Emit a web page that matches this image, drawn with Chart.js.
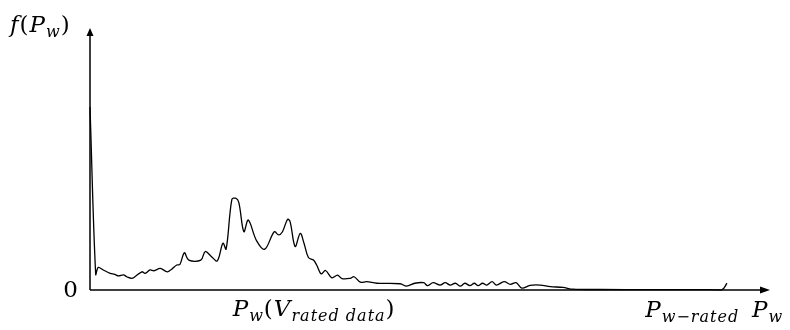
<!DOCTYPE html>
<html>
<head>
<meta charset="utf-8">
<script src="https://cdn.jsdelivr.net/npm/chart.js@4/dist/chart.umd.min.js"></script>
<style>
    html, body { margin: 0; padding: 0; background: #fff; }
    #wrap { width: 790px; height: 330px; }
</style>
</head>
<body>
<div id="wrap"><canvas id="pdf-chart" width="790" height="330"></canvas></div>
<script>
// Potência normalizada (P_w / P_w-rated)
const power = [
    0, 0.009, 0.013, 0.021, 0.032, 0.039, 0.045, 0.053, 0.058, 0.066,
    0.071, 0.082, 0.087, 0.095, 0.101, 0.111, 0.122, 0.129, 0.137, 0.142,
    0.149, 0.156, 0.175, 0.182, 0.192, 0.201, 0.210, 0.215, 0.224, 0.230,
    0.235, 0.243, 0.250, 0.263, 0.276, 0.291, 0.298, 0.304, 0.312, 0.316,
    0.324, 0.332, 0.338, 0.345, 0.353, 0.358, 0.365, 0.372, 0.382, 0.391,
    0.398, 0.411, 0.417, 0.427, 0.437, 0.453, 0.490, 0.500, 0.513, 0.527,
    0.533, 0.542, 0.553, 0.561, 0.569, 0.577, 0.585, 0.592, 0.600, 0.607,
    0.613, 0.620, 0.627, 0.635, 0.642, 0.654, 0.664, 0.673, 0.682, 0.695,
    0.711, 0.727, 0.747, 0.763, 0.806, 0.885, 0.964, 0.998, 1.006
];

// Densidade de probabilidade f(P_w)
const density = [
    0.704, 0.060, 0.087, 0.077, 0.064, 0.060, 0.054, 0.058, 0.051, 0.045,
    0.051, 0.070, 0.064, 0.077, 0.074, 0.083, 0.070, 0.080, 0.096, 0.098,
    0.143, 0.115, 0.115, 0.148, 0.128, 0.112, 0.180, 0.157, 0.348, 0.353,
    0.337, 0.224, 0.269, 0.190, 0.157, 0.224, 0.212, 0.224, 0.272, 0.263,
    0.167, 0.218, 0.180, 0.125, 0.115, 0.096, 0.062, 0.075, 0.047, 0.057,
    0.044, 0.045, 0.051, 0.030, 0.032, 0.026, 0.024, 0.015, 0.026, 0.028,
    0.017, 0.028, 0.019, 0.028, 0.019, 0.026, 0.015, 0.026, 0.017, 0.026,
    0.017, 0.026, 0.019, 0.032, 0.019, 0.032, 0.022, 0.028, 0.007, 0.018,
    0.019, 0.013, 0.010, 0.003, 0.002, 0.0015, 0.0015, 0.001, 0.026
];

const xMax = 1.074;
const yMax = 1.0;

// Rótulos (cada rótulo é uma lista de pedaços: texto, itálico, subscrito)
const yTitle = [['f', 1, 0], ['(', 0, 0], ['P', 1, 0], ['w', 1, 1], [')', 0, 0]];
const zeroLabel = [['0', 0, 0]];
const ratedDataLabel = [['P', 1, 0], ['w', 1, 1], ['(', 0, 0], ['V', 1, 0], ['rated data', 1, 1], [')', 0, 0]];
const ratedLabel = [['P', 1, 0], ['w\u2212rated', 1, 1]];
const xTitle = [['P', 1, 0], ['w', 1, 1]];

const points = power.map(function(p, i) {
    return { x: p, y: density[i] };
});

function fontFor(run) {
    const size = run[2] ? 16 : 23;
    return (run[1] ? 'italic ' : '') + size + 'px "DejaVu Serif", serif';
}

function drawRuns(ctx, runs, x, y, align) {
    ctx.letterSpacing = '1px';
    let total = 0;
    runs.forEach(function(r) {
        ctx.font = fontFor(r);
        total += ctx.measureText(r[0]).width;
    });
    let cx = x;
    if (align === 'center') cx = x - total / 2;
    if (align === 'right') cx = x - total;
    runs.forEach(function(r) {
        ctx.font = fontFor(r);
        ctx.fillText(r[0], cx, y + (r[2] ? 5 : 0));
        cx += ctx.measureText(r[0]).width;
    });
}

// Eixos com setas e rótulos
const axesPlugin = {
    id: 'axesPlugin',
    afterDatasetsDraw: function(chart) {
        const ctx = chart.ctx;
        const xs = chart.scales.x;
        const ys = chart.scales.y;
        const x0 = xs.getPixelForValue(0);
        const y0 = ys.getPixelForValue(0);
        const xEnd = xs.getPixelForValue(xMax);
        const yEnd = ys.getPixelForValue(yMax) - 2;

        ctx.save();
        ctx.strokeStyle = '#000';
        ctx.fillStyle = '#000';
        ctx.lineWidth = 1.5;

        ctx.beginPath();
        ctx.moveTo(x0, y0);
        ctx.lineTo(xEnd - 8, y0);
        ctx.moveTo(x0, y0);
        ctx.lineTo(x0, yEnd + 6);
        ctx.stroke();

        // seta do eixo x
        ctx.beginPath();
        ctx.moveTo(xEnd, y0);
        ctx.lineTo(xEnd - 10, y0 - 3.5);
        ctx.lineTo(xEnd - 10, y0 + 3.5);
        ctx.closePath();
        ctx.fill();

        // seta do eixo y
        ctx.beginPath();
        ctx.moveTo(x0, yEnd);
        ctx.lineTo(x0 - 3.5, yEnd + 8);
        ctx.lineTo(x0 + 3.5, yEnd + 8);
        ctx.closePath();
        ctx.fill();

        ctx.textBaseline = 'alphabetic';
        drawRuns(ctx, yTitle, x0 - 80, yEnd + 4, 'left');
        drawRuns(ctx, zeroLabel, x0 - 19, y0 + 7, 'center');
        drawRuns(ctx, ratedDataLabel, xs.getPixelForValue(0.354), y0 + 26, 'center');
        drawRuns(ctx, ratedLabel, xs.getPixelForValue(0.877), y0 + 27, 'left');
        drawRuns(ctx, xTitle, xEnd - 18, y0 + 27, 'left');
        ctx.restore();
    }
};

new Chart(document.getElementById('pdf-chart'), {
    type: 'line',
    data: {
        datasets: [{
            data: points,
            borderColor: '#000',
            borderWidth: 1.3,
            pointRadius: 0,
            tension: 0.35,
            fill: false,
            clip: false
        }]
    },
    options: {
        responsive: false,
        animation: false,
        layout: {
            padding: { left: 90, right: 20, top: 30, bottom: 40 }
        },
        plugins: {
            legend: { display: false },
            tooltip: { enabled: false }
        },
        scales: {
            x: { type: 'linear', min: 0, max: xMax, display: false },
            y: { min: 0, max: yMax, display: false }
        }
    },
    plugins: [axesPlugin]
});
</script>
</body>
</html>
